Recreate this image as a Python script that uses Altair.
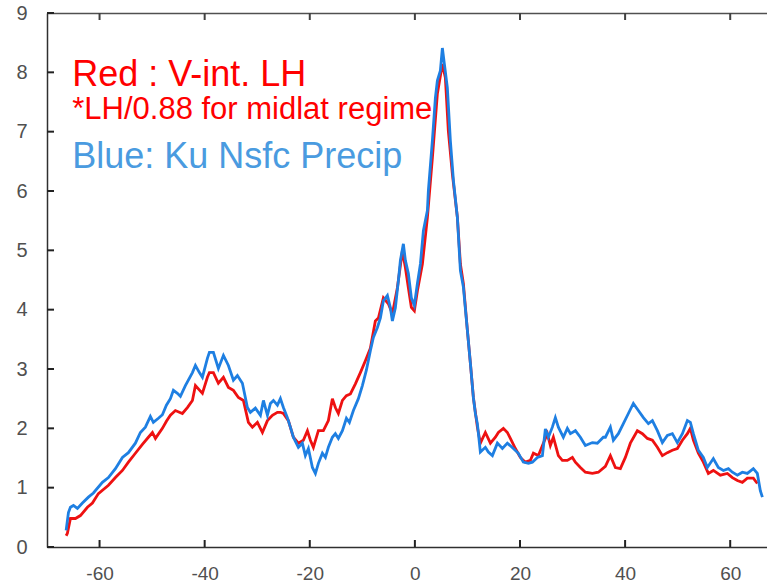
import altair as alt
import pandas as pd

# ---- data (latitude, value) ----
red_lat = [-66.36, -66.12, -65.54, -64.59, -63.64, -62.31, -61.36, -60.22, -58.31, -56.98,
           -55.65, -54.51, -53.18, -51.85, -50.71, -49.94, -49.37, -48.04, -47.28, -46.52,
           -45.57, -44.24, -43.29, -42.33, -41.76, -40.43, -39.48, -39.10, -38.34, -37.39,
           -36.43, -35.48, -34.53, -33.58, -32.63, -31.68, -30.92, -29.97, -29.01, -28.06,
           -27.11, -26.16, -25.59, -25.02, -24.07, -23.12, -22.17, -21.22, -20.45, -19.88,
           -19.31, -18.36, -17.41, -16.46, -15.70, -15.13, -14.56, -13.79, -13.03, -12.27,
           -11.32, -10.37, -9.42, -8.47, -7.52, -6.94, -5.99, -5.04, -4.28, -3.33,
           -2.38, -1.81, -1.24, -0.67, -0.10, 0.48, 1.43, 2.38, 3.33, 4.28,
           5.23, 5.80, 6.37, 7.13, 8.09, 8.66, 9.23, 9.99, 10.56, 11.13,
           11.89, 12.46, 13.41, 14.37, 15.32, 15.89, 16.84, 17.60, 18.17, 19.12,
           20.07, 21.02, 21.98, 22.55, 23.50, 24.45, 25.21, 25.78, 26.35, 27.30,
           28.06, 29.01, 29.97, 30.54, 31.49, 32.44, 33.77, 34.91, 36.25, 37.20,
           38.15, 39.10, 40.05, 41.00, 42.33, 43.29, 44.24, 45.19, 46.14, 47.09,
           48.04, 48.99, 49.94, 50.90, 51.85, 52.42, 52.99, 53.94, 54.89, 55.84,
           56.79, 58.12, 59.46, 60.41, 61.36, 62.31, 63.26, 64.40, 65.16]
red_lh = [0.19, 0.23, 0.48, 0.48, 0.53, 0.67, 0.74, 0.90, 1.04, 1.17,
          1.29, 1.43, 1.58, 1.73, 1.85, 1.93, 1.83, 2.00, 2.12, 2.22,
          2.30, 2.25, 2.35, 2.47, 2.72, 2.59, 2.86, 2.94, 2.94, 2.76,
          2.86, 2.69, 2.64, 2.52, 2.47, 2.10, 2.02, 2.10, 1.93, 2.13,
          2.22, 2.27, 2.27, 2.25, 2.13, 1.85, 1.75, 1.80, 1.96, 1.80,
          1.68, 1.96, 1.96, 2.13, 2.50, 2.35, 2.25, 2.47, 2.55, 2.58,
          2.75, 2.94, 3.14, 3.35, 3.81, 3.86, 4.20, 4.10, 3.93, 4.37,
          4.99, 4.71, 4.37, 4.04, 3.98, 4.32, 4.77, 5.55, 6.56, 7.64,
          8.14, 7.91, 7.01, 6.29, 5.55, 4.77, 4.44, 3.65, 3.10, 2.52,
          2.02, 1.75, 1.93, 1.75, 1.85, 1.93, 2.00, 1.93, 1.83, 1.66,
          1.51, 1.43, 1.46, 1.58, 1.54, 1.75, 1.91, 1.71, 1.85, 1.54,
          1.46, 1.46, 1.51, 1.43, 1.34, 1.26, 1.24, 1.26, 1.36, 1.54,
          1.34, 1.32, 1.51, 1.75, 1.96, 1.91, 1.83, 1.80, 1.68, 1.54,
          1.59, 1.63, 1.66, 1.80, 1.91, 2.00, 1.80, 1.58, 1.43, 1.24,
          1.29, 1.21, 1.24, 1.17, 1.12, 1.09, 1.16, 1.16, 1.07]

blue_lat = [-66.36, -65.92, -65.54, -64.97, -64.21, -63.26, -62.12, -61.17, -59.46, -58.31,
            -56.98, -55.65, -54.51, -53.18, -52.23, -51.28, -50.33, -49.76, -48.80, -48.04,
            -47.28, -46.52, -45.95, -45.19, -44.62, -43.67, -42.33, -41.76, -41.00, -40.43,
            -39.48, -39.10, -38.34, -37.39, -36.43, -35.48, -34.53, -33.77, -32.82, -31.87,
            -31.30, -30.35, -29.39, -28.82, -28.06, -27.49, -26.92, -26.16, -25.59, -25.02,
            -24.26, -23.69, -23.12, -22.17, -21.41, -20.84, -20.26, -19.50, -18.93, -18.36,
            -17.60, -17.03, -16.46, -15.70, -15.13, -14.56, -13.79, -13.03, -12.46, -11.70,
            -10.75, -9.99, -9.23, -8.47, -7.90, -7.13, -6.56, -5.99, -5.23, -4.66,
            -4.28, -3.71, -3.14, -2.76, -2.19, -1.81, -1.24, -0.67, -0.10, 0.48,
            1.05, 1.62, 2.38, 2.57, 3.33, 3.90, 4.28, 4.85, 5.23, 5.61,
            6.18, 6.75, 7.33, 8.09, 8.66, 9.23, 9.99, 10.56, 11.13, 11.51,
            11.89, 12.46, 13.41, 13.98, 14.75, 15.70, 16.65, 17.60, 18.74, 19.69,
            20.64, 21.60, 22.36, 23.31, 24.26, 24.83, 25.40, 26.16, 26.73, 27.30,
            28.25, 29.01, 29.59, 30.54, 31.49, 32.44, 33.77, 34.72, 35.86, 36.25,
            37.20, 37.77, 38.72, 39.67, 40.62, 41.57, 42.52, 43.48, 44.43, 45.19,
            46.14, 47.09, 48.04, 48.99, 49.94, 50.90, 51.85, 52.42, 52.99, 53.94,
            54.89, 55.65, 56.79, 57.74, 58.70, 59.65, 60.41, 61.36, 62.31, 63.26,
            64.40, 65.16, 65.73, 66.12]
blue_precip = [0.28, 0.58, 0.67, 0.70, 0.65, 0.74, 0.84, 0.91, 1.09, 1.17,
               1.32, 1.51, 1.59, 1.75, 1.93, 2.02, 2.20, 2.10, 2.17, 2.23,
               2.39, 2.50, 2.64, 2.59, 2.54, 2.72, 2.94, 3.06, 2.94, 2.86,
               3.18, 3.28, 3.28, 3.01, 3.23, 3.06, 2.81, 2.89, 2.76, 2.35,
               2.27, 2.34, 2.22, 2.47, 2.22, 2.42, 2.47, 2.39, 2.50, 2.35,
               2.18, 2.02, 1.85, 1.68, 1.75, 1.54, 1.66, 1.34, 1.24, 1.41,
               1.58, 1.51, 1.68, 1.85, 1.91, 1.83, 1.96, 2.17, 2.10, 2.30,
               2.50, 2.72, 2.98, 3.31, 3.53, 3.70, 3.86, 4.15, 4.24, 4.03,
               3.81, 4.03, 4.49, 4.83, 5.11, 4.83, 4.61, 4.20, 4.07, 4.44,
               4.77, 5.33, 5.67, 6.01, 6.85, 7.57, 7.86, 8.03, 8.41, 8.14,
               7.74, 6.85, 6.18, 5.55, 4.66, 4.38, 3.65, 3.10, 2.52, 2.25,
               2.08, 1.60, 1.68, 1.60, 1.54, 1.75, 1.66, 1.75, 1.66, 1.58,
               1.43, 1.41, 1.43, 1.51, 1.54, 1.99, 1.85, 2.02, 2.18, 2.02,
               1.85, 2.00, 1.91, 1.96, 1.85, 1.71, 1.76, 1.75, 1.85, 1.85,
               2.02, 1.80, 1.91, 2.08, 2.25, 2.42, 2.30, 2.18, 2.08, 2.13,
               1.96, 1.76, 1.88, 1.91, 1.76, 1.91, 2.13, 2.10, 1.91, 1.63,
               1.51, 1.34, 1.49, 1.34, 1.29, 1.32, 1.26, 1.21, 1.26, 1.24,
               1.32, 1.24, 0.95, 0.84]

x_ticks = [-60, -40, -20, 0, 20, 40, 60]
y_ticks = [0, 1, 2, 3, 4, 5, 6, 7, 8, 9]

note_text = ["Red : V-int. LH", "*LH/0.88 for midlat regime", "Blue: Ku Nsfc Precip"]
note_lat = [-65.2, -65.2, -65.2]
note_val = [7.77, 7.22, 6.39]
note_size = [36, 31, 36]
note_color = ["#ff0000", "#ff0000", "#4a9be0"]

red_df = pd.DataFrame({"lat": red_lat, "val": red_lh})
blue_df = pd.DataFrame({"lat": blue_lat, "val": blue_precip})
note_df = pd.DataFrame({"text": note_text, "lat": note_lat, "val": note_val,
                        "fs": note_size, "color": note_color})
xtick_df = pd.DataFrame({"t": x_ticks})
ytick_df = pd.DataFrame({"t": y_ticks})

W, H = 720, 534
TK = 7
FONT = "Liberation Sans"
AXC = "#303030"
xscale = alt.Scale(domain=[-70, 67], nice=False, zero=False)
yscale = alt.Scale(domain=[0, 9], nice=False, zero=True)

x_bottom = alt.Axis(orient="bottom", values=x_ticks, ticks=False, grid=False, title=None,
                    labelFont=FONT, labelFontSize=19, labelColor="#505050",
                    labelPadding=17, labelExpr="'' + datum.value",
                    domainColor=AXC, domainWidth=1.5)
y_left = alt.Axis(orient="left", values=y_ticks, ticks=False, grid=False, title=None,
                  labelFont=FONT, labelFontSize=20, labelColor="#505050",
                  labelPadding=20, labelExpr="'' + datum.value",
                  domainColor=AXC, domainWidth=1.5)
x_top = alt.Axis(orient="top", values=x_ticks, ticks=False, labels=False, grid=False,
                 title=None, domainColor="#505050", domainWidth=1.5)

red_line = alt.Chart(red_df).mark_line(color="#ee1111", strokeWidth=2.8).encode(
    x=alt.X("lat:Q", scale=xscale, axis=x_bottom),
    y=alt.Y("val:Q", scale=yscale, axis=y_left),
)
blue_line = alt.Chart(blue_df).mark_line(color="#1e7fe2", strokeWidth=2.8).encode(
    x=alt.X("lat:Q", scale=xscale, axis=x_top),
    y=alt.Y("val:Q", scale=yscale),
)
notes = alt.Chart(note_df).mark_text(align="left", baseline="alphabetic", font=FONT).encode(
    x=alt.X("lat:Q", scale=xscale, axis=None),
    y=alt.Y("val:Q", scale=yscale),
    text="text:N",
    size=alt.Size("fs:Q", scale=None, legend=None),
    color=alt.Color("color:N", scale=None, legend=None),
)
bottom_ticks = alt.Chart(xtick_df).mark_rule(color="#222222", strokeWidth=2).encode(
    x=alt.X("t:Q", scale=xscale, axis=None), y=alt.value(H), y2=alt.value(H - TK))
top_ticks = alt.Chart(xtick_df).mark_rule(color="#404040", strokeWidth=2).encode(
    x=alt.X("t:Q", scale=xscale, axis=None), y=alt.value(0), y2=alt.value(TK))
left_ticks = alt.Chart(ytick_df).mark_rule(color="#222222", strokeWidth=2).encode(
    y=alt.Y("t:Q", scale=yscale), x=alt.value(0), x2=alt.value(TK))

chart = alt.layer(red_line, blue_line, notes, bottom_ticks, top_ticks, left_ticks).resolve_axis(
    x="independent").properties(
    width=W, height=H,
    autosize=alt.AutoSizeParams(type="none"),
    padding={"left": 47, "top": 13, "right": 0, "bottom": 37},
    background="white",
).configure_view(stroke=None)

chart.save("out.html", embed_options={"renderer": "svg", "actions": False})
